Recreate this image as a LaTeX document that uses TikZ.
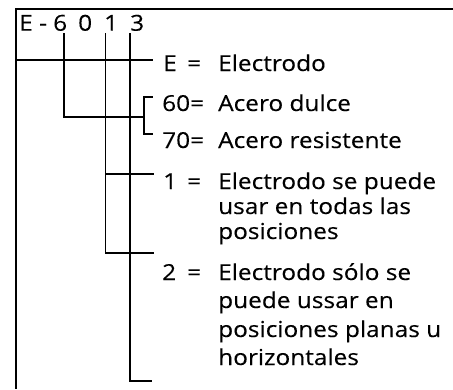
\documentclass[tikz,border=0pt]{standalone}
\usepackage{fontspec}
\setmainfont[FakeStretch=1.11,FakeBold=0.2]{Open Sans}
\begin{document}
\begin{tikzpicture}[x=1pt,y=-1pt,
  ln/.style={line width=1.2pt,line cap=rect},
  frame/.style={line width=1.2pt},
  lbl/.style={anchor=base west,inner sep=0pt,font=\fontsize{22}{24}\selectfont},
  dig/.style={anchor=base west,inner sep=0pt,font=\fontsize{22}{24}\selectfont}]
\useasboundingbox (0,0) rectangle (453,389);
% frame
\coordinate (tl) at (16,9);
\coordinate (tr) at (453,9);
\coordinate (bl) at (16,389);
\draw[frame] (tr) -- (tl) -- (bl);
% code digits
\node[dig] (dE) at (19,30.7) {E};
\node[dig] (dd) at (39,30.7) {-};
\node[dig] (d6) at (53,30.7) {6};
\node[dig] (d0) at (78,30.7) {0};
\node[dig] (d1) at (104,30.7) {1};
\node[dig] (d3) at (130,30.7) {3};
% connector points
\coordinate (sE) at (16.8,33);
\coordinate (cE) at (16.8,60);
\coordinate (eE) at (152,60);
\coordinate (s6) at (64,34);
\coordinate (c6) at (64,117);
\coordinate (b6) at (144,117);
\coordinate (bt1) at (152,97);
\coordinate (bt0) at (144,97);
\coordinate (bb0) at (144,134);
\coordinate (bb1) at (152,134);
\coordinate (s1) at (105.7,34);
\coordinate (m1) at (105.7,174);
\coordinate (m1e) at (153,174);
\coordinate (c1) at (105.7,253);
\coordinate (e1) at (153,253);
\coordinate (s3) at (130,34);
\coordinate (c3) at (130,381);
\coordinate (e3) at (151,381);
\draw[ln] (sE) -- (cE) -- (eE);
\draw[ln] (s6) -- (c6) -- (b6);
\draw[ln] (bt1) -- (bt0) -- (bb0) -- (bb1);
\draw[ln] (s1) -- (c1) -- (e1);
\draw[ln] (m1) -- (m1e);
\draw[ln] (s3) -- (c3) -- (e3);
% labels
\node[lbl] (kE) at (163,71) {E};
\node[lbl] (qE) at (187,71) {=};
\node[lbl] (tE) at (218,71) {Electrodo};
\node[lbl] (k60) at (162,111) {60=};
\node[lbl] (t60) at (218,111) {Acero dulce};
\node[lbl] (k70) at (162,148) {70=};
\node[lbl] (t70) at (218,148) {Acero resistente};
\node[lbl] (k1) at (163,189) {1};
\node[lbl] (q1) at (187,189) {=};
\node[lbl] (t1a) at (218,189) {Electrodo se puede};
\node[lbl] (t1b) at (218,214) {usar en todas las};
\node[lbl] (t1c) at (218,239) {posiciones};
\node[lbl] (k2) at (162,280) {2};
\node[lbl] (q2) at (187,280) {=};
\node[lbl] (t2a) at (218,280) {Electrodo sólo se};
\node[lbl] (t2b) at (218,308) {puede ussar en};
\node[lbl] (t2c) at (218,337) {posiciones planas u};
\node[lbl] (t2d) at (218,365) {horizontales};
\end{tikzpicture}
\end{document}
